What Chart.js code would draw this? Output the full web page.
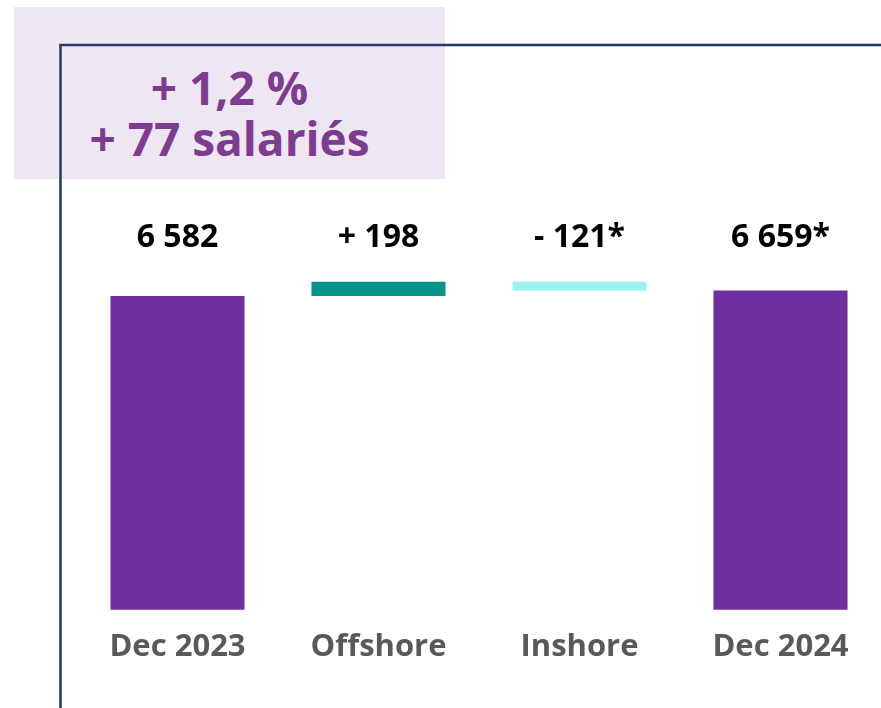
<!DOCTYPE html>
<html>
<head>
<meta charset="utf-8">
<script src="https://cdn.jsdelivr.net/npm/chart.js@4/dist/chart.umd.min.js"></script>
<style>
  html, body { margin: 0; padding: 0; background: #ffffff; }
  #wrap { position: relative; width: 881px; height: 708px; overflow: hidden; }
  #box { position: absolute; left: 14px; top: 7px; width: 431px; height: 172px; background: #EEE6F2; }
  #boxText { position: absolute; left: 14px; top: 7px; width: 431px; text-align: center;
    font-family: "Open Sans", sans-serif; font-weight: 700; font-size: 46px; line-height: 51px;
    color: #7D3C8F; padding-top: 55px; }
  #boxText div { white-space: nowrap; }
  canvas { position: absolute; left: 0; top: 0; }
</style>
</head>
<body>
<div id="wrap">
  <div id="box"></div>
  <div id="boxText"><div id="l1"></div><div id="l2"></div></div>
  <canvas id="c" width="881" height="708"></canvas>
</div>
<script>
// ---- data ----
const categories = ["Dec 2023", "Offshore", "Inshore", "Dec 2024"];
const barValues = [6582, [6582, 6780], [6659, 6780], 6659];
const valueLabels = ["6 582", "+ 198", "- 121*", "6 659*"];
const barColors = ["#7030A0", "#07948A", "#9AF4EE", "#7030A0"];
const headline = ["+ 1,2 %", "+ 77 salariés"];
const yMin = 2180;
const yMax = 10100;

document.getElementById('l1').textContent = headline[0];
document.getElementById('l2').textContent = headline[1];

const framePlugin = {
  id: 'frame',
  afterDraw(chart) {
    const { ctx, chartArea } = chart;
    const x0 = chartArea.left - 16.5;
    ctx.save();
    ctx.strokeStyle = '#243A63';
    ctx.lineWidth = 2.5;
    ctx.beginPath();
    ctx.moveTo(x0, chart.height + 2);
    ctx.lineTo(x0, chartArea.top);
    ctx.lineTo(chart.width + 2, chartArea.top);
    ctx.stroke();
    ctx.restore();
  }
};

const labelPlugin = {
  id: 'valueLabels',
  afterDatasetsDraw(chart) {
    const { ctx } = chart;
    const meta = chart.getDatasetMeta(0);
    let topMost = Infinity;
    meta.data.forEach(b => { topMost = Math.min(topMost, b.y); });
    const y = topMost - 44;
    ctx.save();
    ctx.font = '700 32px "Open Sans"';
    ctx.fillStyle = '#000000';
    ctx.textAlign = 'center';
    ctx.textBaseline = 'middle';
    meta.data.forEach((b, i) => {
      ctx.fillText(valueLabels[i], b.x, y);
    });
    ctx.restore();
  }
};

new Chart(document.getElementById('c'), {
  type: 'bar',
  data: {
    labels: categories,
    datasets: [{
      data: barValues,
      backgroundColor: barColors,
      borderWidth: 0,
      categoryPercentage: 1,
      barPercentage: 0.667
    }]
  },
  options: {
    responsive: false,
    animation: false,
    layout: { padding: { left: 77, right: 0, top: 45, bottom: 23 } },
    plugins: { legend: { display: false }, tooltip: { enabled: false } },
    scales: {
      x: {
        grid: { display: false, drawTicks: false },
        border: { display: false },
        ticks: {
          color: '#595959',
          font: { family: 'Open Sans', weight: '700', size: 31 },
          padding: 19
        }
      },
      y: {
        display: false,
        min: yMin,
        max: yMax
      }
    }
  },
  plugins: [framePlugin, labelPlugin]
});
</script>
</body>
</html>
